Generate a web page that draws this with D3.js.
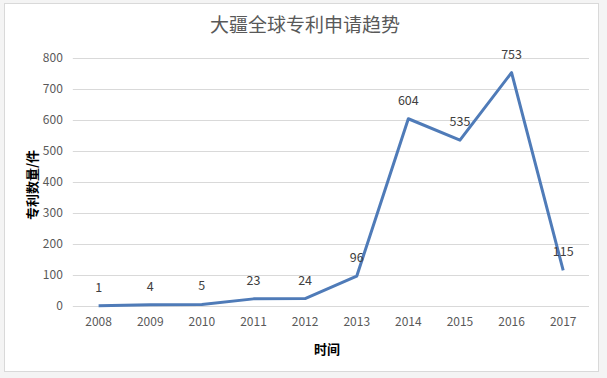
<!DOCTYPE html>
<html>
<head>
<meta charset="utf-8">
<script src="https://cdn.jsdelivr.net/npm/d3@7"></script>
<style>
  body { margin: 0; background: #f4f4f4; }
  svg { display: block; }
</style>
</head>
<body>
<script>
// chart data
let years = ["2008", "2009", "2010", "2011", "2012", "2013", "2014", "2015", "2016", "2017"]
let counts = [1, 4, 5, 23, 24, 96, 604, 535, 753, 115]
let yTicks = [0, 100, 200, 300, 400, 500, 600, 700, 800]

let width = 607
let height = 378
let font = "'Microsoft YaHei', 'Noto Sans CJK SC', sans-serif"

let svg = d3.select("body")
    .append("svg")
    .attr("width", width)
    .attr("height", height)

// frame
svg.append("rect")
    .attr("x", 4.5)
    .attr("y", 3.5)
    .attr("width", 594)
    .attr("height", 368)
    .style("fill", "white")
    .style("stroke", "#d9d9d9")

let xScale = d3.scaleBand()
    .domain(years)
    .range([72.8, 589])

let yScale = d3.scaleLinear()
    .domain([0, 800])
    .range([306, 58])

// gridlines
svg.append("g")
    .selectAll("line")
    .data(yTicks)
    .join("line")
    .attr("x1", 72.8)
    .attr("x2", 589)
    .attr("y1", d => Math.round(yScale(d)) + 0.5)
    .attr("y2", d => Math.round(yScale(d)) + 0.5)
    .style("stroke", "#d9d9d9")

// y axis labels
let yAxis = d3.axisLeft(yScale).tickValues(yTicks).tickSize(0).tickPadding(10)
svg.append("g")
    .attr("transform", "translate(72.8,0)")
    .call(yAxis)
    .call(g => g.select(".domain").remove())
    .selectAll("text")
    .style("font-family", font)
    .style("font-size", "12px")
    .style("fill", "#595959")

// x axis labels
let xAxis = d3.axisBottom(xScale).tickSize(0).tickPadding(11)
svg.append("g")
    .attr("transform", "translate(0,306)")
    .call(xAxis)
    .call(g => g.select(".domain").remove())
    .selectAll("text")
    .style("font-family", font)
    .style("font-size", "12px")
    .style("fill", "#595959")

// line
let lineFunction = d3.line()
    .x((d, i) => xScale(years[i]) + xScale.bandwidth() / 2)
    .y(d => yScale(d))

svg.append("path")
    .datum(counts)
    .attr("d", lineFunction)
    .style("fill", "none")
    .style("stroke", "#4f7bb8")
    .style("stroke-width", 3)
    .style("stroke-linejoin", "round")

// data labels
svg.append("g")
    .selectAll("text")
    .data(counts)
    .join("text")
    .attr("x", (d, i) => xScale(years[i]) + xScale.bandwidth() / 2)
    .attr("y", d => yScale(d) - 14)
    .attr("text-anchor", "middle")
    .style("font-family", font)
    .style("font-size", "12.5px")
    .style("fill", "#404040")
    .text(d => d)

// title
svg.append("text")
    .attr("x", 305)
    .attr("y", 32)
    .attr("text-anchor", "middle")
    .style("font-family", font)
    .style("font-size", "19px")
    .style("fill", "#595959")
    .text("大疆全球专利申请趋势")

// axis titles
svg.append("text")
    .attr("x", 327)
    .attr("y", 354)
    .attr("text-anchor", "middle")
    .style("font-family", font)
    .style("font-size", "13px")
    .style("font-weight", "bold")
    .style("fill", "#000")
    .text("时间")

svg.append("text")
    .attr("transform", "translate(37,185) rotate(-90)")
    .attr("text-anchor", "middle")
    .style("font-family", font)
    .style("font-size", "13px")
    .style("font-weight", "bold")
    .style("fill", "#000")
    .text("专利数量/件")
</script>
</body>
</html>
